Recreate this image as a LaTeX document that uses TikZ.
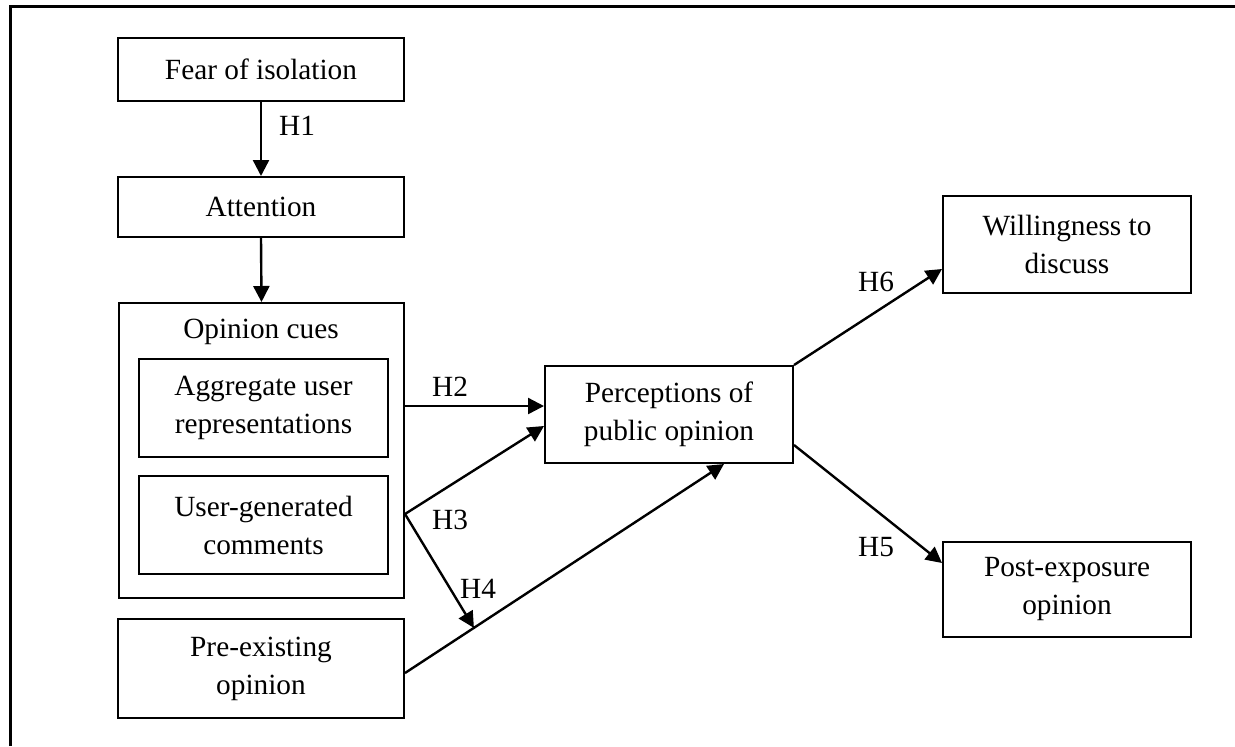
\documentclass[tikz,border=0pt]{standalone}
\usepackage{fontspec}
\setmainfont{Liberation Serif}
\usetikzlibrary{arrows.meta,calc}
\begin{document}
\begin{tikzpicture}[x=0.5pt,y=-0.5pt,
  every node/.style={font=\fontsize{14.65pt}{19pt}\selectfont},
  box/.style={draw,line width=1pt,inner sep=0pt,align=center,minimum width=#1},
  box/.default=143pt,
  arr/.style={line width=1.2pt,-{Triangle[length=8pt,width=8pt]}},
  hyp/.style={inner sep=0pt}]
\useasboundingbox (0,0) rectangle (1235,746);
% open frame around the model
\draw[line width=1.1pt] (10.5,746) -- (10.5,6.5) -- (1235,6.5);

% left column
\node[box,minimum height=31.5pt] (fear) at (261,69.5) {Fear of isolation};
\node[box,minimum height=30pt] (att) at (261,207) {Attention};
\node[box=142.5pt,minimum height=147.5pt] (cues) at (261.5,450.5) {};
\node (cuesl) at (261,332) {Opinion cues};
\node[box=124.5pt,minimum height=49pt] (agg) at (263.5,408) {Aggregate user\\representations};
\node[box=124.5pt,minimum height=49pt] (ugc) at (263.5,525) {User-generated\\comments};
\node[box,minimum height=49.5pt] (pre) at (261,668.5) {Pre-existing\\opinion};

% centre and right column
\node[box=124pt,minimum height=48.5pt] (perc) at (669,414.5) {Perceptions of\\public opinion};
\node[box=124pt,minimum height=48.5pt] (will) at (1067,244.5) {Willingness to\\discuss};
\node[box=124pt,minimum height=47.5pt] (post) at (1067,589.5) {Post-exposure\\opinion};

% paths
\draw[arr] (fear.south) -- (att.south |- att.north);
\draw[arr] (att.south) -- (cues.north);
\draw[arr] ($(cues.east |- perc.west)+(0,-8.5)$) -- ($(perc.west)+(0,-8.5)$);
\coordinate (fork) at ($(cues.east |- ugc.east)+(0,-11)$);
\draw[arr] (fork) -- ($(perc.west)+(0,11.5)$);
\coordinate (pres) at ($(pre.east)+(0,4.5)$);
\coordinate (percb) at ($(perc.south)+(55,0)$);
\draw[arr] (pres) -- (percb);
\path (pres) -- (percb) coordinate[pos=0.216] (h4end);
\draw[arr] (fork) -- (h4end);
\draw[arr] (perc.north east) -- ($(will.west)+(0,24.5)$);
\draw[arr] ($(perc.east)+(0,30.5)$) -- ($(post.west)+(0,-26.5)$);

% hypothesis labels
\node[hyp] (h1) at (297,126) {H1};
\node[hyp] (h2) at (450,387) {H2};
\node[hyp] (h3) at (450,520) {H3};
\node[hyp] (h4) at (478,589) {H4};
\node[hyp] (h6) at (876,282) {H6};
\node[hyp] (h5) at (876,547) {H5};
\end{tikzpicture}
\end{document}
